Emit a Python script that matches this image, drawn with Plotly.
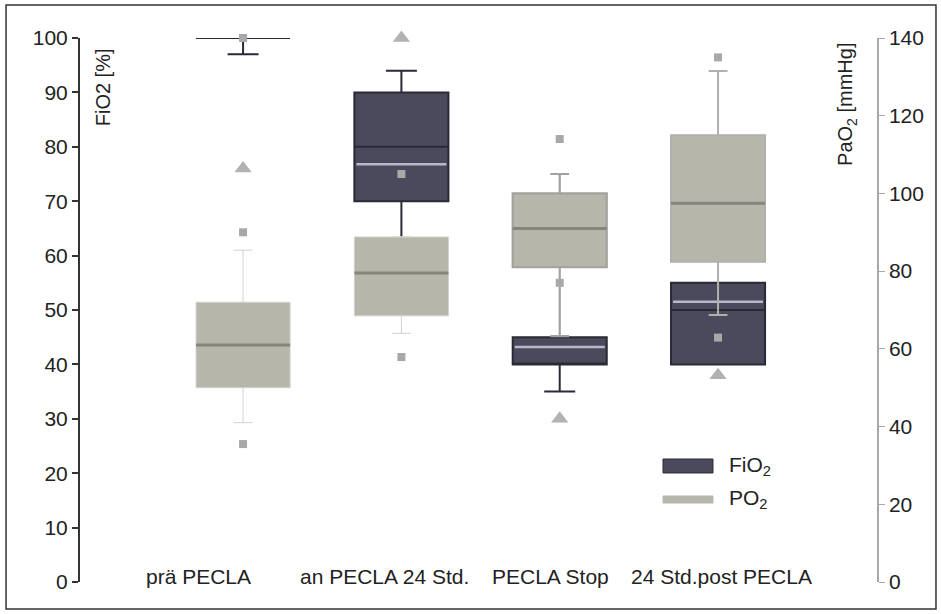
import plotly.graph_objects as go

# Time points
categories = ["prä PECLA", "an PECLA 24 Std.", "PECLA Stop", "24 Std.post PECLA"]

# FiO2 [%] box statistics (left axis)
fio2_q1 = [100, 70, 40, 40]
fio2_median = [100, 80, 40, 50]
fio2_q3 = [100, 90, 45, 55]
fio2_low = [97, 50, 35, 40]
fio2_high = [100, 94, 45, 55]
fio2_inner = [None, 76.8, 43.2, 51.5]
fio2_out_idx = [0, 1, 2, 3]
fio2_out_val = [76, 100, 30, 38]

# PaO2 [mmHg] box statistics (right axis)
po2_q1 = [50, 68.5, 81, 82.4]
po2_median = [61, 79.5, 91, 97.5]
po2_q3 = [72, 88.8, 100, 115]
po2_low = [41, 64, 63.3, 68.7]
po2_high = [85.4, 88.8, 105, 131.5]
po2_out_idx = [0, 0, 0, 1, 1, 2, 2, 3, 3]
po2_out_val = [140, 90, 35.5, 57.9, 105, 114, 77, 135, 62.9]

# Tick values
fio2_ticks = list(range(0, 101, 10))
po2_ticks = list(range(0, 141, 20))

# Legend entries
legend_names = ["FiO<sub>2</sub>", "PO<sub>2</sub>"]

FIO2_FILL = "#4a4a5c"
FIO2_LINE = "#2a2a36"
PO2_FILL = "#b6b6ab"
PO2_WHISK = ["#d2d2cc", "#d2d2cc", "#a2a29e", "#b0b0ac"]
PO2_WHISK_W = [1, 1, 2.2, 2]
BOX_W = 0.594
BOX_PX = 94
FONT = "Liberation Sans, Arial, sans-serif"

fig = go.Figure()

for i, cat in enumerate(categories):
    fig.add_trace(go.Box(
        x=[i], q1=[fio2_q1[i]], median=[fio2_median[i]], q3=[fio2_q3[i]],
        lowerfence=[fio2_low[i]], upperfence=[fio2_high[i]],
        width=BOX_W, whiskerwidth=0.33,
        fillcolor=FIO2_FILL, line=dict(color=FIO2_LINE, width=2),
        name="FiO2", showlegend=False, yaxis="y", boxpoints=False,
    ))

# line-ew marker length is 1.4 x size
fig.add_trace(go.Scatter(
    x=list(range(len(categories))), y=fio2_inner, mode="markers",
    marker=dict(symbol="line-ew", size=(BOX_PX - 4) / 1.4,
                line=dict(color="#b8b8c6", width=2.5)),
    showlegend=False, yaxis="y", hoverinfo="skip", cliponaxis=False,
))
fig.add_trace(go.Scatter(
    x=fio2_out_idx, y=fio2_out_val, mode="markers",
    marker=dict(symbol="triangle-up", size=15, color="#b2b2b2"),
    showlegend=False, yaxis="y", cliponaxis=False,
))

for i, cat in enumerate(categories):
    fig.add_trace(go.Box(
        x=[i], q1=[po2_q1[i]], median=[po2_median[i]], q3=[po2_q3[i]],
        lowerfence=[po2_low[i]], upperfence=[po2_high[i]],
        width=BOX_W, whiskerwidth=0.2,
        fillcolor=PO2_FILL, line=dict(color=PO2_WHISK[i], width=PO2_WHISK_W[i]),
        name="PO2", showlegend=False, yaxis="y2", boxpoints=False,
    ))

fig.add_trace(go.Scatter(
    x=list(range(len(categories))), y=po2_median, mode="markers",
    marker=dict(symbol="line-ew", size=BOX_PX / 1.4,
                line=dict(color="#85857c", width=3)),
    showlegend=False, yaxis="y2", hoverinfo="skip",
))
fig.add_trace(go.Scatter(
    x=po2_out_idx, y=po2_out_val, mode="markers",
    marker=dict(symbol="square", size=8, color="#a8a8a8"),
    showlegend=False, yaxis="y2", cliponaxis=False,
))

# Category labels inside the plot area along the bottom
label_shift = [-45, -17, -9, 3]
for i, cat in enumerate(categories):
    fig.add_annotation(
        x=i, y=1, xref="x", yref="y", text=cat, showarrow=False,
        xshift=label_shift[i], yanchor="middle",
        font=dict(family=FONT, size=21, color="#222"),
    )

# Axis titles drawn inside the plot next to each axis line
fig.add_annotation(
    x=0.029, y=0.985, xref="paper", yref="paper", text="FiO2 [%]",
    textangle=-90, showarrow=False, xanchor="center", yanchor="top",
    font=dict(family=FONT, size=20, color="#222"),
)
fig.add_annotation(
    x=0.962, y=0.995, xref="paper", yref="paper", text="PaO<sub>2</sub> [mmHg]",
    textangle=-90, showarrow=False, xanchor="center", yanchor="top",
    font=dict(family=FONT, size=20, color="#222"),
)

# Legend drawn as swatches with text
legend_fill = [FIO2_FILL, PO2_FILL]
legend_line = [FIO2_LINE, PO2_FILL]
legend_y = [(0.2004, 0.2261), (0.1452, 0.1581)]
legend_text_y = [0.2132, 0.1526]
for k, name in enumerate(legend_names):
    fig.add_shape(
        type="rect", xref="paper", yref="paper",
        x0=0.7315, x1=0.7942, y0=legend_y[k][0], y1=legend_y[k][1],
        fillcolor=legend_fill[k], line=dict(color=legend_line[k], width=1),
    )
    fig.add_annotation(
        x=0.8118, y=legend_text_y[k], xref="paper", yref="paper", text=name,
        showarrow=False, xanchor="left", yanchor="middle",
        font=dict(family=FONT, size=21, color="#222"),
    )

# Outer frame
fig.add_shape(
    type="rect", xref="paper", yref="paper",
    x0=-0.0928, x1=1.074, y0=-0.0496, y1=1.0607,
    line=dict(color="#333", width=1.5), fillcolor="rgba(0,0,0,0)",
)

fig.update_layout(
    width=941, height=614,
    margin=dict(l=80, r=64, t=38, b=32),
    paper_bgcolor="white", plot_bgcolor="white",
    boxmode="overlay",
    font=dict(family=FONT, size=21, color="#222"),
    xaxis=dict(range=[-1.03, 4.004], showticklabels=False, showgrid=False,
               zeroline=False, showline=False, ticks=""),
    yaxis=dict(range=[0, 100], tickvals=fio2_ticks, showgrid=False, zeroline=False,
               showline=True, linecolor="#333", linewidth=2,
               ticks="outside", ticklen=6, tickcolor="#333", tickwidth=1.5,
               tickfont=dict(size=21)),
    yaxis2=dict(range=[0, 140], tickvals=po2_ticks, overlaying="y", side="right",
                showgrid=False, zeroline=False, showline=True, linecolor="#a8a8a8",
                linewidth=1.5, ticks="outside", ticklen=6, tickcolor="#a8a8a8",
                tickfont=dict(size=21)),
    showlegend=False,
)

fig.write_html("out.html")
